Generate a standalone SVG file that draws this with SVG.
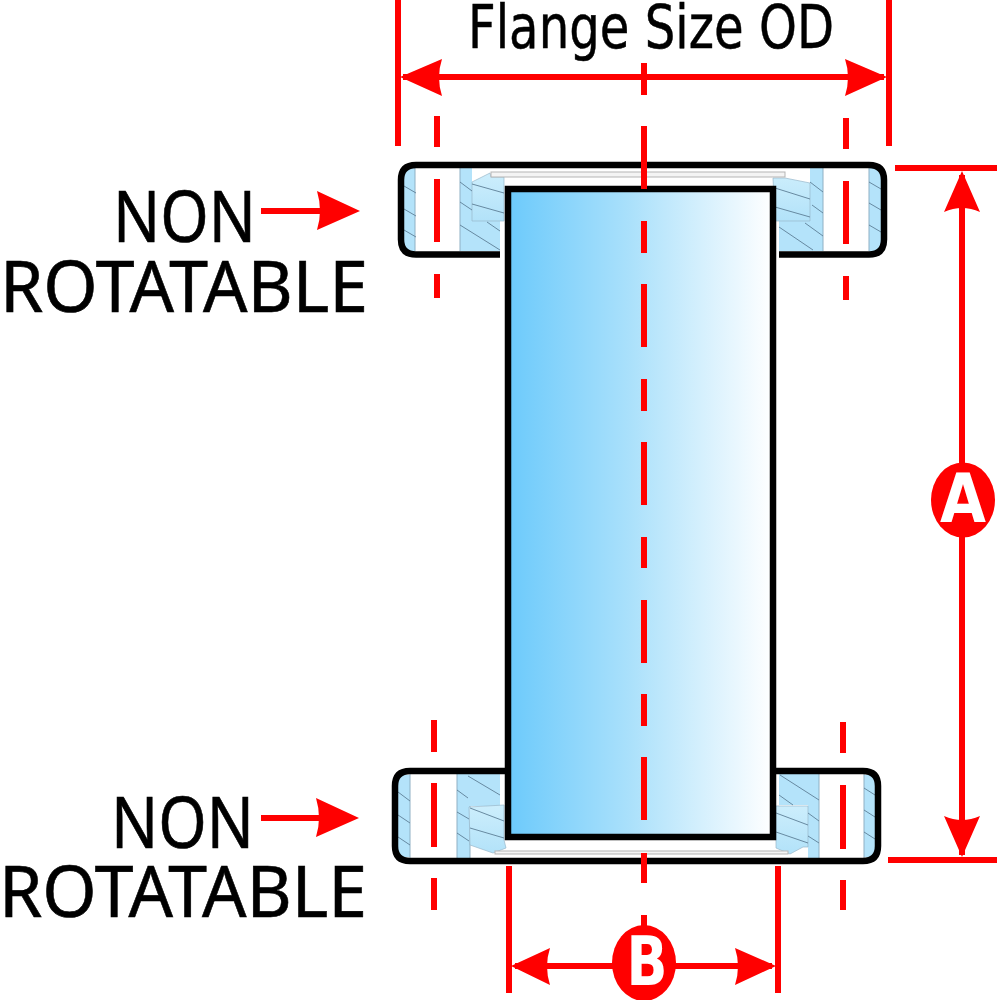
<svg xmlns="http://www.w3.org/2000/svg" width="1000" height="1000" viewBox="0 0 1000 1000">
<defs>
<linearGradient id="tube" x1="0" x2="1" y1="0" y2="0"><stop offset="0" stop-color="#6ccafb"/><stop offset="0.45" stop-color="#a9e0fb"/><stop offset="1" stop-color="#ffffff"/></linearGradient>
<linearGradient id="inner" x1="0" x2="0" y1="0" y2="1"><stop offset="0" stop-color="#cdeefc"/><stop offset="1" stop-color="#b2e2f9"/></linearGradient>
</defs>
<style>
.blue{fill:#b4e3fa;stroke:none}
.inner{fill:url(#inner);stroke:#9ab8ca;stroke-width:.7}
.hatch{stroke:#5d7f96;stroke-width:.9;fill:none}
.edge{stroke:#8fb0c4;stroke-width:1;fill:none}
.body{fill:none;stroke:#000;stroke-width:6.5;stroke-linejoin:miter}
.gasket{fill:#f4f4f4;stroke:#b5b5b5;stroke-width:1}
.dim{stroke:#f00;stroke-width:6;fill:none}
.head{fill:#f00;stroke:none}
.label{font-family:"Noto Sans","Open Sans",sans-serif;font-size:71px;fill:#000;stroke:#000;stroke-width:.6}
.title{font-family:"DejaVu Sans",sans-serif;font-size:60px;fill:#000;stroke:#000;stroke-width:.5}
.tag{font-family:"DejaVu Sans",sans-serif;font-weight:bold;font-size:67px;fill:#fff;text-anchor:middle}
</style>
<rect width="1000" height="1000" fill="#fff"/>

<g id="flange-top">
<path class="blue" d="M404 168H415V251H404ZM460 168H472V221H500V251H460ZM810 168H823V251H779V221H810ZM869 168H881V251H869Z"/>
<path class="edge" d="M415 168V251M460 168V251M823 168V251M869 168V251"/>
<path class="inner" d="M472 182L490 173L491 177H504V221H472ZM773 178H785L810 183V221H775Z"/>
<rect class="gasket" x="491" y="172" width="294" height="5"/>
<path class="hatch" d="M404 186L416 193M404 209L416 216M404 230L416 237M460 182L472 191M460 202L472 210M460 225L500 250M487 222L500 231M472 184L504 193M472 204L504 213M810 182L823 192M812 205L823 213M805 223L823 236M779 227L813 250M775 188L810 199M775 207L810 217M869 182L881 189M869 203L881 210M869 225L881 232"/>
<path class="body" d="M500 254.500H416Q401 254.500 401 239.500V180Q401 165 416 165H869Q884 165 884 180V239.500Q884 254.500 869 254.500H779"/>
</g>

<g id="flange-bottom">
<path class="blue" d="M398 775H410V857H398ZM457 774H500V806H470V858H457ZM779 774H819V858H808V805H779ZM864 775H875V857H864Z"/>
<path class="edge" d="M410 774V858M457 774V858M819 774V858M864 774V858M470 806V858"/>
<path class="inner" d="M469 807L504 805V840L506 848L493 853L470 845ZM776 806H808V847H803L790 854L776 848Z"/>
<rect class="gasket" x="495" y="851" width="293" height="3"/>
<path class="hatch" d="M398 792L410 801M398 815L410 823M398 837L410 845M468 776L500 795M457 790L468 798M457 812L469 819M457 833L469 841M470 808L504 821M470 828L504 838M780 775L819 800M779 795L793 805M808 813L819 821M808 836L819 843M776 813L808 825M776 832L808 843M864 788L875 795M864 810L875 817M864 832L875 839"/>
<path class="body" d="M505 771H410Q395 771 395 786V846Q395 861 410 861H863Q878 861 878 846V786Q878 771 863 771H776"/>
</g>

<g id="tube-body">
<rect x="508" y="189" width="265" height="648" fill="url(#tube)" stroke="#000" stroke-width="6.500"/>
</g>

<g id="connectors">
<path class="dim" d="M398 0V146M889 0V146M403 77H884"/>
<path class="head" d="M400 77L442 59Q436 77 442 96ZM887 77L845 59Q851 77 845 96Z"/>
<path class="dim" d="M644 63V95M644 126V189M644 221V253M644 284V347M644 379V411M644 442V505M644 537V568M644 600V663M644 694V726M644 757V820M644 853V883M644 915V930"/>
<path class="dim" d="M437 116V147M437 179V242M437 274V298M846 118V149M846 181V244M846 276V300M434 720V752M434 783V847M434 878V910M843 722V753M843 785V849M843 880V910"/>
<path class="dim" d="M895 168H997M888 860H997M962 175V855"/>
<path class="head" d="M962 171L980 212Q962 204 944 212ZM962 857L980 816Q962 824 944 816Z"/>
<path class="dim" d="M509 866V993M778 866V993M515 966H772"/>
<path class="head" d="M511 966L550 948Q544 966 550 985ZM776 966L735 948Q741 966 735 985Z"/>
<path class="dim" d="M261 211H325M261 818H325"/>
<path class="head" d="M360 211L317 191Q323 211 317 230ZM359 818L316 798Q322 818 316 837Z"/>
</g>

<g id="label-flange-size"><text class="title" x="468" y="48" textLength="366" lengthAdjust="spacingAndGlyphs">Flange Size OD</text></g>
<g id="label-top"><text class="label" x="113" y="242" textLength="143" lengthAdjust="spacingAndGlyphs">NON</text><text class="label" x="0" y="312" textLength="368" lengthAdjust="spacingAndGlyphs">ROTATABLE</text></g>
<g id="label-bottom"><text class="label" x="111" y="848" textLength="143" lengthAdjust="spacingAndGlyphs">NON</text><text class="label" x="-1" y="917" textLength="368" lengthAdjust="spacingAndGlyphs">ROTATABLE</text></g>
<g id="tag-a"><ellipse cx="963" cy="500" rx="32" ry="37.500" fill="#f00"/><text class="tag" x="963" y="522" textLength="46" lengthAdjust="spacingAndGlyphs">A</text></g>
<g id="tag-b"><ellipse cx="644" cy="963" rx="32" ry="38" fill="#f00"/><text class="tag" x="647" y="985" textLength="41" lengthAdjust="spacingAndGlyphs">B</text></g>
</svg>
